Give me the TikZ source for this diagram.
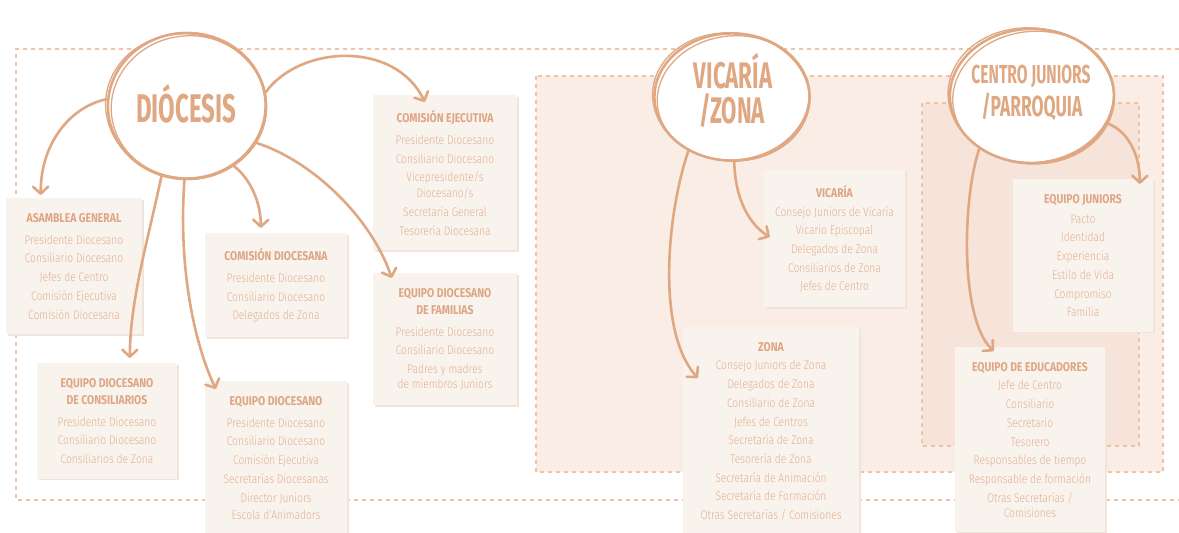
\documentclass[tikz,border=0pt]{standalone}
\usepackage{fontspec}
\setmainfont{Fira Sans}
\newfontfamily\bodyf{Fira Sans Light}[FakeStretch=0.82]
\newfontfamily\bigf{Fira Sans}[FakeStretch=0.6]
\usetikzlibrary{arrows.meta,shapes.geometric,shadows,calc}
\definecolor{acc}{RGB}{224,168,130}
\definecolor{txt}{RGB}{226,176,144}
\definecolor{ttlc}{RGB}{222,166,132}
\definecolor{boxf}{RGB}{249,243,238}
\definecolor{regA}{RGB}{249,237,230}
\definecolor{regB}{RGB}{246,228,218}
\definecolor{dsh}{RGB}{239,195,168}
\definecolor{shd}{RGB}{240,228,220}
\newcommand\bt[1]{{\color{ttlc}\fontspec{Fira Sans}[FakeStretch=0.82]\bfseries\fontsize{12.7}{18.7}\selectfont #1}}
\tikzset{
  arr/.style={draw=acc, line width=2.6pt, line cap=round,
    -{Straight Barb[length=7pt,width=15pt,round]}},
  card/.style={fill=boxf, draw=none, align=center, inner xsep=0pt, inner ysep=15pt,
    anchor=north, text=txt, font=\bodyf\fontsize{12.5}{18.7}\selectfont,
    drop shadow={shadow xshift=1.5pt, shadow yshift=-1.5pt, fill=shd, opacity=1}},
  bubble/.style={ellipse, draw=acc, line width=2.4pt, fill=white, inner sep=0pt},
  sketch/.style={draw=acc, line width=1.3pt},
  bigtxt/.style={text=acc, anchor=base, inner sep=0pt, font=\bigf\bfseries},
  dashline/.style={draw=dsh, line width=1.1pt, dash pattern=on 4pt off 4pt},
}
\begin{document}
\begin{tikzpicture}[x=1pt,y=-1pt]
\useasboundingbox (0,0) rectangle (1179,533);
\fill[white] (0,0) rectangle (1179,533);
% outer dashed frame
\draw[dashline] (1179,49) -- (16,49) -- (16,500) -- (1179,500);
% regions
\draw[dashline, fill=regA] (536,76) rectangle (1163,472);
\draw[dashline, fill=regB] (922,103) rectangle (1139,446);
% boxes
\node[card, minimum width=136pt] (asam) at (74,198)
 {\bt{ASAMBLEA GENERAL}\\[3.3pt] Presidente Diocesano\\ Consiliario Diocesano\\ Jefes de Centro\\ Comisión Ejecutiva\\ Comisión Diocesana};
\node[card, minimum width=140pt] (cons) at (107,363)
 {\bt{EQUIPO DIOCESANO}\\[-1.7pt] \bt{DE CONSILIARIOS}\\[3.3pt] Presidente Diocesano\\ Consiliario Diocesano\\ Consiliarios de Zona};
\node[card, minimum width=142pt] (cdio) at (276,233)
 {\bt{COMISIÓN DIOCESANA}\\[3.3pt] Presidente Diocesano\\ Consiliario Diocesano\\ Delegados de Zona};
\node[card, minimum width=142pt] (edio) at (276,381)
 {\bt{EQUIPO DIOCESANO}\\[3.3pt] Presidente Diocesano\\ Consiliario Diocesano\\ Comisión Ejecutiva\\ Secretarías Diocesanas\\ Director Juniors\\[-1.7pt] Escola d’Animadors};
\node[card, minimum width=144pt] (cej) at (445,95)
 {\bt{COMISIÓN EJECUTIVA}\\[3.3pt] Presidente Diocesano\\ Consiliario Diocesano\\ Vicepresidente/s\\[-2.7pt] Diocesano/s\\ Secretaría General\\ Tesorería Diocesana};
\node[card, minimum width=144pt] (fam) at (445,273)
 {\bt{EQUIPO DIOCESANO}\\[-1.7pt] \bt{DE FAMILIAS}\\[3.3pt] Presidente Diocesano\\ Consiliario Diocesano\\ Padres y madres\\[-3.7pt] de miembros Juniors};
\node[card, minimum width=141pt] (vbox) at (834.5,170)
 {\bt{VICARÍA}\\ Consejo Juniors de Vicaría\\ Vicario Episcopal\\ Delegados de Zona\\ Consiliarios de Zona\\ Jefes de Centro};
\node[card, minimum width=176pt] (zona) at (771,327)
 {\bt{ZONA}\\ Consejo Juniors de Zona\\ Delegados de Zona\\ Consiliario de Zona\\ Jefes de Centros\\ Secretaría de Zona\\ Tesorería de Zona\\ Secretaría de Animación\\ Secretaría de Formación\\ Otras Secretarías / Comisiones};
\node[card, minimum width=140pt] (jun) at (1083,179)
 {\bt{EQUIPO JUNIORS}\\[1.3pt] Pacto\\ Identidad\\ Experiencia\\ Estilo de Vida\\ Compromiso\\ Familia};
\node[card, minimum width=150pt] (edu) at (1030,347)
 {\bt{EQUIPO DE EDUCADORES}\\ Jefe de Centro\\ Consiliario\\ Secretario\\ Tesorero\\ Responsables de tiempo\\ Responsable de formación\\ Otras Secretarías /\\[-3.7pt] Comisiones};
% circles (shapes only; drawn later on top)
\node[bubble, minimum width=158pt, minimum height=146pt] (dio) at (187,106) {};
\node[bubble, minimum width=155pt, minimum height=127pt] (vic) at (732,97) {};
\node[bubble, minimum width=164pt, minimum height=134pt] (cen) at (1032,96) {};
% arrows
\draw[arr] (dio.175) .. controls (65,108) and (40,150) .. ($(asam.north west)+(35,-3)$);
\draw[arr] (dio.250) .. controls (148,240) and (130,300) .. ($(cons.north west)+(93,-5)$);
\draw[arr] (dio.268) .. controls (178,270) and (195,345) .. ($(edio.north west)+(11,8)$);
\draw[arr] (dio.308) .. controls (252,180) and (261,205) .. ($(cdio.north west)+(56,-5)$);
\draw[arr] (dio.332) .. controls (310,160) and (370,215) .. ($(fam.north west)+(19,5)$);
\draw[arr] (dio.10) .. controls (300,45) and (395,40) .. ($(cej.north west)+(52,7)$);
\draw[arr] (vic.231) .. controls (668,210) and (655,330) .. ($(zona.north west)+(15,51)$);
\draw[arr] (vic.272) .. controls (735,200) and (750,225) .. ($(vbox.north west)+(6,67)$);
\draw[arr] (cen.225) .. controls (962,200) and (960,320) .. ($(edu.north west)+(39,4)$);
\draw[arr] (cen.340) .. controls (1130,132) and (1140,158) .. ($(jun.north west)+(127,5)$);
% redraw circles on top of arrow starts
\node[bubble, minimum width=158pt, minimum height=146pt] at (dio.center) {};
\draw[sketch, rotate around={8:(dio.center)}] ($(dio.center)+(1,1)$) ellipse (77pt and 71pt);
\draw[sketch, rotate around={-6:(dio.center)}] ($(dio.center)+(-1,0)$) ellipse (80.5pt and 72pt);
\node[bubble, minimum width=155pt, minimum height=127pt] at (vic.center) {};
\draw[sketch, rotate around={6:(vic.center)}] ($(vic.center)+(1,1)$) ellipse (76pt and 62pt);
\draw[sketch, rotate around={-5:(vic.center)}] ($(vic.center)+(-1,0)$) ellipse (78.5pt and 64pt);
\node[bubble, minimum width=164pt, minimum height=134pt] at (cen.center) {};
\draw[sketch, rotate around={6:(cen.center)}] ($(cen.center)+(1,1)$) ellipse (80.5pt and 65.5pt);
\draw[sketch, rotate around={-5:(cen.center)}] ($(cen.center)+(-1,0)$) ellipse (83pt and 68pt);
% circle texts
\node[bigtxt, font=\bigf\bfseries\fontsize{40}{40}\selectfont] (dioT) at (186,122) {DIÓCESIS};
\node[bigtxt, font=\bigf\bfseries\fontsize{37}{37}\selectfont] (vicT1) at (733,88) {VICARÍA};
\node[bigtxt, font=\bigf\bfseries\fontsize{37}{37}\selectfont] (vicT2) at (732,123) {/ZONA};
\node[bigtxt, font=\bigf\bfseries\fontsize{26}{26}\selectfont] (cenT1) at (1031,83) {CENTRO JUNIORS};
\node[bigtxt, font=\bigf\bfseries\fontsize{29}{29}\selectfont] (cenT2) at (1032,116) {/PARROQUIA};
\end{tikzpicture}
\end{document}
